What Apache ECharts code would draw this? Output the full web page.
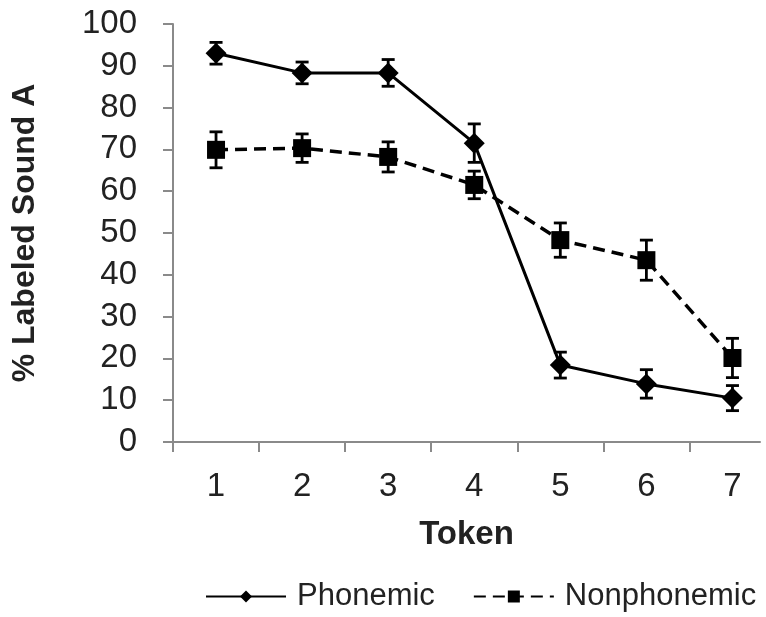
<!DOCTYPE html>
<html>
<head>
<meta charset="utf-8">
<script src="https://cdn.jsdelivr.net/npm/echarts@6/dist/echarts.min.js"></script>
<style>html,body{margin:0;padding:0;background:#fff;}#chart{width:766px;height:617px;}</style>
</head>
<body>
<div id="chart"></div>
<script>
const tokens = [1, 2, 3, 4, 5, 6, 7];
const phonemic = [93, 88.3, 88.3, 71.5, 18.4, 13.9, 10.5];
const phonemicErr = [2.6, 2.6, 3.2, 4.6, 3.1, 3.4, 3.0];
const nonphonemic = [69.9, 70.3, 68.2, 61.5, 48.3, 43.5, 20.1];
const nonphonemicErr = [4.3, 3.4, 3.6, 3.3, 4.1, 4.8, 4.7];
const xTickValues = [0.5, 1.5, 2.5, 3.5, 4.5, 5.5, 6.5];
const yTicks = [0, 10, 20, 30, 40, 50, 60, 70, 80, 90, 100];

const font = '"Liberation Sans", Arial, sans-serif';
const axisGray = '#8a8a8a';
const textColor = '#222';

function pairs(vals) { return tokens.map((t, i) => [t, vals[i]]); }
function errData(vals, errs) { return tokens.map((t, i) => [t, vals[i] - errs[i], vals[i] + errs[i]]); }

function renderErr(params, api) {
  const x = api.value(0);
  const lo = api.coord([x, api.value(1)]);
  const hi = api.coord([x, api.value(2)]);
  const hw = 6.5;
  const style = { stroke: '#000', lineWidth: 2.8 };
  return {
    type: 'group',
    children: [
      { type: 'line', shape: { x1: lo[0], y1: lo[1], x2: hi[0], y2: hi[1] }, style },
      { type: 'line', shape: { x1: lo[0] - hw, y1: lo[1], x2: lo[0] + hw, y2: lo[1] }, style },
      { type: 'line', shape: { x1: hi[0] - hw, y1: hi[1], x2: hi[0] + hw, y2: hi[1] }, style }
    ]
  };
}

const chart = echarts.init(document.getElementById('chart'), null, { renderer: 'canvas' });
chart.setOption({
  animation: false,
  backgroundColor: '#fff',
  grid: { left: 173, top: 24, width: 587, height: 418, containLabel: false },
  legend: {
    left: 200, top: 576,
    itemWidth: 80, itemHeight: 15, itemGap: 38,
    textStyle: { fontFamily: font, fontSize: 31, color: textColor, padding: [0, 0, 0, 6] },
    data: ['Phonemic', 'Nonphonemic']
  },
  xAxis: {
    type: 'value', min: 0.5, max: 7.32,
    name: 'Token', nameLocation: 'middle', nameGap: 76,
    nameTextStyle: { fontFamily: font, fontSize: 33, fontWeight: 'bold', color: textColor },
    axisLine: { show: true, lineStyle: { color: axisGray, width: 2 } },
    axisTick: { show: true, inside: false, length: 10, lineStyle: { color: axisGray, width: 2 }, customValues: xTickValues },
    axisLabel: { fontFamily: font, fontSize: 33, color: textColor, margin: 28, customValues: tokens },
    splitLine: { show: false }
  },
  yAxis: {
    type: 'value', min: 0, max: 100, interval: 10,
    name: '% Labeled Sound A', nameLocation: 'middle', nameGap: 132,
    nameTextStyle: { fontFamily: font, fontSize: 32, fontWeight: 'bold', color: textColor },
    axisLine: { show: true, lineStyle: { color: axisGray, width: 2 } },
    axisTick: { show: true, inside: false, length: 10, lineStyle: { color: axisGray, width: 2 } },
    axisLabel: { fontFamily: font, fontSize: 33, color: textColor, margin: 36, customValues: yTicks },
    splitLine: { show: false }
  },
  series: [
    {
      name: 'Phonemic', type: 'line', data: pairs(phonemic),
      symbol: 'diamond', symbolSize: [21, 21],
      itemStyle: { color: '#000' },
      lineStyle: { color: '#000', width: 3, type: 'solid' },
      z: 3
    },
    {
      name: 'Nonphonemic', type: 'line', data: pairs(nonphonemic),
      symbol: 'rect', symbolSize: 18,
      itemStyle: { color: '#000' },
      lineStyle: { color: '#000', width: 3.5, type: [12, 7] },
      z: 3
    },
    { type: 'custom', name: 'errP', renderItem: renderErr, data: errData(phonemic, phonemicErr), z: 4, silent: true },
    { type: 'custom', name: 'errN', renderItem: renderErr, data: errData(nonphonemic, nonphonemicErr), z: 4, silent: true }
  ]
});
</script>
</body>
</html>
